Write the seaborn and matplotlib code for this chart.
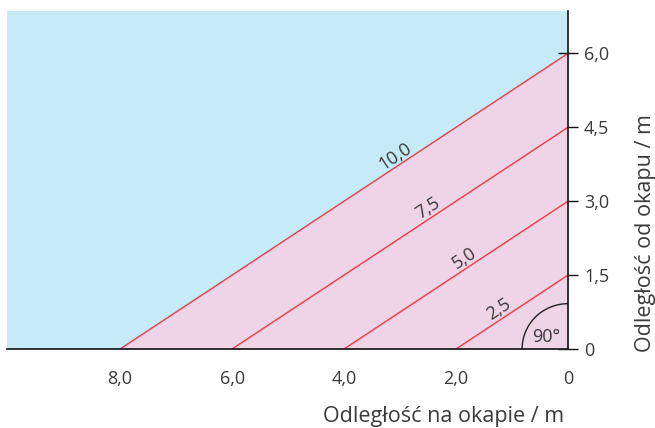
import numpy as np
import pandas as pd
import seaborn as sns
import matplotlib.pyplot as plt
from matplotlib.patches import Arc

# dane
start_x = [2.0, 4.0, 6.0, 8.0]          # punkt na okapie
end_y = [1.5, 3.0, 4.5, 6.0]            # punkt na osi pionowej
line_labels = ["2,5", "5,0", "7,5", "10,0"]
label_x = [1.14, 1.77, 2.41, 3.0]       # gdzie stoi napis wzdluz linii

x_ticks = [8.0, 6.0, 4.0, 2.0, 0.0]
x_ticklabels = ["8,0", "6,0", "4,0", "2,0", "0"]
y_ticks = [0.0, 1.5, 3.0, 4.5, 6.0]
y_ticklabels = ["0", "1,5", "3,0", "4,5", "6,0"]

rows = []
for i, (x0, y1) in enumerate(zip(start_x, end_y)):
    rows.append({"linia": i, "x": x0, "y": 0.0})
    rows.append({"linia": i, "x": 0.0, "y": y1})
df = pd.DataFrame(rows)

sns.set_style("white")
plt.rcParams["font.family"] = ["Open Sans", "DejaVu Sans"]
szary = "#3a3a3a"
czerwony = "#EE3B45"

fig = plt.figure(figsize=(6.55, 4.28), dpi=100)
ax = fig.add_axes([7 / 655, 1 - 349 / 428, 561 / 655, 338 / 428])
ax.set_facecolor("#C6EAF8")

# rozowy trojkat pod najdluzsza linia
xx = np.array([0.0, start_x[-1]])
ax.fill_between(xx, 0, end_y[-1] * (1 - xx / start_x[-1]), color="#EFD3E6", lw=0, zorder=1)

sns.lineplot(data=df, x="x", y="y", units="linia", estimator=None, sort=False,
             color=czerwony, linewidth=1.0, ax=ax, zorder=2)

ax.set_xlim(10.02, 0)
ax.set_ylim(0, 6.86)

# napisy wzdluz linii
for x0, y1, lab, lx in zip(start_x, end_y, line_labels, label_x):
    ly = y1 * (1 - lx / x0)
    p1 = ax.transData.transform((x0, 0))
    p2 = ax.transData.transform((0, y1))
    ang = np.degrees(np.arctan2(p2[1] - p1[1], p2[0] - p1[0]))
    ax.annotate(lab, (lx, ly), xytext=(0, 0.5), textcoords="offset points",
                rotation=ang, rotation_mode="anchor", ha="center", va="bottom",
                fontsize=13, color=szary)

# kat prosty
ax.add_patch(Arc((0, 0), 2 * 0.82, 2 * 0.92, theta1=0, theta2=90, color="#222222", lw=1.0, zorder=3))
ax.text(0.39, 0.25, "90°", fontsize=13, color=szary, ha="center", va="center")

for s in ["left", "top"]:
    ax.spines[s].set_visible(False)
for s in ["bottom", "right"]:
    ax.spines[s].set_color("#111111")
    ax.spines[s].set_linewidth(1.2)
    ax.spines[s].set_zorder(4)

ax.yaxis.tick_right()
ax.set_xticks(x_ticks)
ax.set_xticklabels(x_ticklabels)
ax.set_yticks(y_ticks)
ax.set_yticklabels(y_ticklabels)
ax.tick_params(direction="inout", length=14, width=1.0, color="#111111",
               labelsize=13, labelcolor=szary)
ax.tick_params(axis="x", pad=8)
ax.tick_params(axis="y", pad=4.5)

ax.set_xlabel("Odległość na okapie / m", fontsize=15.5, color=szary)
ax.xaxis.set_label_coords(0.778, -0.168)
ax.set_ylabel("Odległość od okapu / m", fontsize=15.5, color=szary, rotation=90)
ax.yaxis.set_label_position("right")
ax.yaxis.set_label_coords(1.119, 0.342)

fig.savefig("out.png", dpi=100)
